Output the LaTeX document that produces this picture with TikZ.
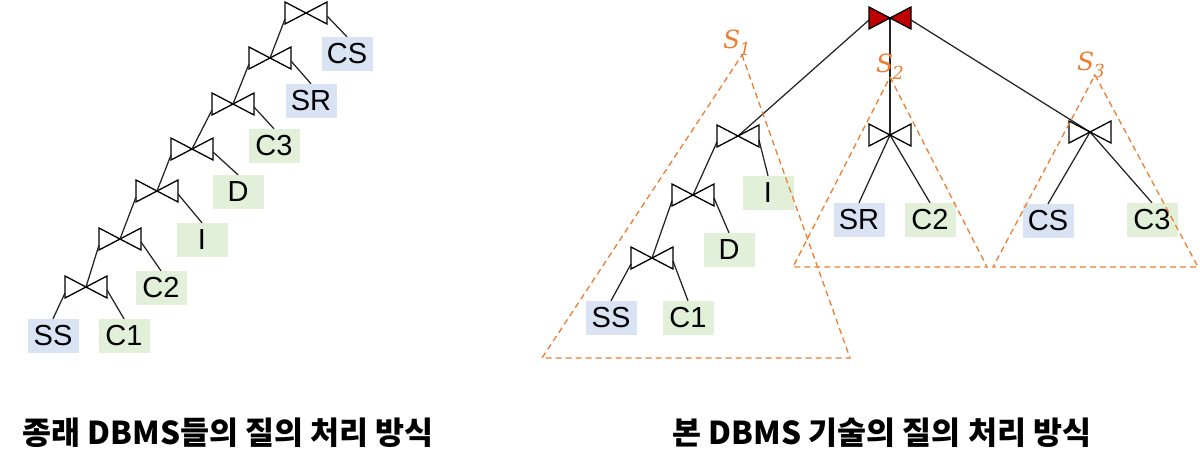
\documentclass[tikz,border=0pt]{standalone}
\usepackage{fontspec}
\setmainfont{Liberation Sans}
\newfontfamily\kr{Noto Sans CJK KR}
\newfontfamily\serif{DejaVu Serif}
\definecolor{lblue}{RGB}{218,227,243}
\definecolor{lgreen}{RGB}{226,240,217}
\definecolor{sorange}{RGB}{237,125,49}
\definecolor{jred}{RGB}{192,0,0}
\definecolor{edgegray}{RGB}{35,35,35}
\newcommand{\subtreename}[1]{{\serif\itshape\fontsize{25}{30}\selectfont S\kern-1pt\raisebox{-7pt}{\fontsize{18}{20}\selectfont #1}}}
\tikzset{
  bowtie/.pic={\draw[pic actions,line width=1.3pt,line join=miter]
    (-21,-11) -- (-21,11) -- (0,0) -- cycle
    (21,-11) -- (21,11) -- (0,0) -- cycle;},
  rel/.style={inner sep=0pt,minimum width=51pt,minimum height=34pt,
    font=\fontsize{29}{30}\selectfont},
  relb/.style={rel,fill=lblue},
  relg/.style={rel,fill=lgreen},
  edge/.style={draw=edgegray,line width=1.25pt},
  subtree/.style={draw=sorange,dash pattern=on 6pt off 4pt,line width=1.3pt},
  slabel/.style={text=sorange,inner sep=0pt},
  caption/.style={inner sep=0pt,font=\kr\bfseries\fontsize{31.5}{34}\selectfont}
}
\begin{document}
\begin{tikzpicture}[x=1pt,y=-1pt]
\useasboundingbox (0,0) rectangle (1200,469);
% ---------- left tree ----------
\coordinate (b1) at (306,13);
\coordinate (b2) at (270,58);
\coordinate (b3) at (233,104);
\coordinate (b4) at (192,149);
\coordinate (b5) at (157,191);
\coordinate (b6) at (120,239);
\coordinate (b7) at (86,287);
\foreach \b in {b1,b2,b3,b4,b5,b6,b7} {\pic[draw=black] at (\b) {bowtie};}
\node[relb] (lCS) at (347,54) {CS};
\node[relb] (lSR) at (311,101) {SR};
\node[relg] (lC3) at (274,146) {C3};
\node[relg] (lD)  at (238,192) {D};
\node[relg] (lI)  at (202,240) {I};
\node[relg] (lC2) at (161,288) {C2};
\node[relb] (lSS) at (53,336) {SS};
\node[relg] (lC1) at (124,336) {C1};
\foreach \p/\c in {b1/b2,b2/b3,b3/b4,b4/b5,b5/b6,b6/b7}
  {\draw[edge] ([shift={(-21,6)}]\p) -- (\c);}
\foreach \p/\c in {b1/lCS,b2/lSR,b3/lC3,b4/lD,b5/lI,b6/lC2,b7/lC1}
  {\draw[edge] ([shift={(21,3)}]\p) -- (\c.north);}
\draw[edge] ([shift={(-21,6)}]b7) -- (lSS.north);
% ---------- right tree ----------
\coordinate (r) at (890,18);
\coordinate (A) at (738,136);
\coordinate (B) at (693,195);
\coordinate (C) at (652,258);
\coordinate (P2) at (890,135);
\coordinate (P3) at (1090,132);
\node[relg] (rI)  at (768,193) {I};
\node[relg] (rD)  at (729,250) {D};
\node[relb] (rSS) at (611,318) {SS};
\node[relg] (rC1) at (688,318) {C1};
\node[relb] (rSR) at (859,220) {SR};
\node[relg] (rC2) at (930,220) {C2};
\node[relb] (rCS) at (1048,221) {CS};
\node[relg] (rC3) at (1152,220) {C3};
\draw[edge] ([shift={(-21,2)}]r) -- (A);
\draw[edge] (r) -- (P2);
\draw[edge] ([shift={(21,2)}]r) -- (P3);
\draw[edge] ([shift={(-21,6)}]A) -- (B);
\draw[edge] ([shift={(21,4)}]A) -- (rI.north);
\draw[edge] ([shift={(-21,6)}]B) -- (C);
\draw[edge] ([shift={(21,3)}]B) -- (rD.north);
\draw[edge] ([shift={(-21,6)}]C) -- (rSS.north);
\draw[edge] ([shift={(21,3)}]C) -- (rC1.north);
\draw[edge] (P2) -- (rSR.north);
\draw[edge] (P2) -- (rC2.north);
\draw[edge] (P3) -- (rCS.north);
\draw[edge] (P3) -- (rC3.north);
\foreach \b in {A,B,C,P2,P3} {\pic[draw=black] at (\b) {bowtie};}
\pic[draw=black,fill=jred] at (r) {bowtie};
% subtrees
\coordinate (t1) at (742,55);
\coordinate (t1l) at (542,358);
\coordinate (t1r) at (850,358);
\coordinate (t2) at (890,77);
\coordinate (t2l) at (793,267);
\coordinate (t2r) at (987,267);
\coordinate (t3) at (1095,75);
\coordinate (t3l) at (993,267);
\coordinate (t3r) at (1198,267);
\draw[subtree] (t1) -- (t1r) -- (t1l) -- cycle;
\draw[subtree] (t2) -- (t2r) -- (t2l) -- cycle;
\draw[subtree] (t3) -- (t3r) -- (t3l) -- cycle;
\node[slabel] (s1) at (737,43) {\subtreename{1}};
\node[slabel] (s2) at (890,67) {\subtreename{2}};
\node[slabel] (s3) at (1091,65) {\subtreename{3}};
% captions
\node[caption] (cap1) at (228,433) {종래 DBMS들의 질의 처리 방식};
\node[caption] (cap2) at (882,433) {본 DBMS 기술의 질의 처리 방식};
\end{tikzpicture}
\end{document}
